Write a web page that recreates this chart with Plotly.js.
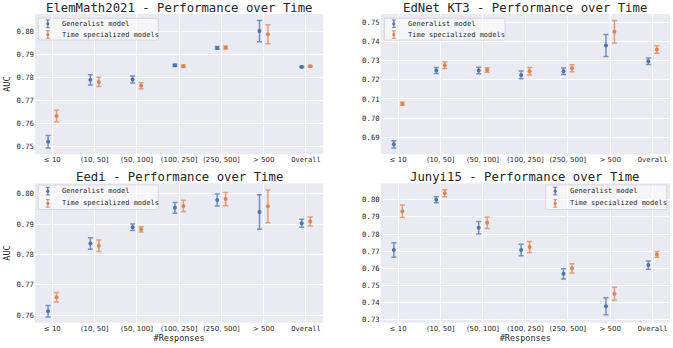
<!DOCTYPE html>
<html>
<head>
<meta charset="utf-8">
<script src="https://cdn.plot.ly/plotly-3.0.1.min.js"></script>
<style>
  body { margin: 0; background: #fff; }
  #plot { width: 673px; height: 348px; }
</style>
</head>
<body>
<div id="plot"></div>
<script>
// x categories (shared by all panels)
var categories = ['\u2264 10', '(10, 50]', '(50, 100]', '(100, 250]', '(250, 500]', '> 500', 'Overall'];
var titles = ['ElemMath2021 - Performance over Time', 'EdNet KT3 - Performance over Time',
              'Eedi - Performance over Time', 'Junyi15 - Performance over Time'];
var seriesNames = ['Generalist model', 'Time specialized models'];

// ElemMath2021
var elemGen = [0.7521, 0.7789, 0.7791, 0.7852, 0.7927, 0.8000, 0.7845];
var elemGenErr = [0.0027, 0.0022, 0.0015, 0.0005, 0.0006, 0.0046, 0.0003];
var elemSpec = [0.7633, 0.7780, 0.7764, 0.7848, 0.7929, 0.7986, 0.7848];
var elemSpecErr = [0.0025, 0.0020, 0.0013, 0.0005, 0.0006, 0.0041, 0.0003];

// EdNet KT3
var ednetGen = [0.6862, 0.7249, 0.7249, 0.7226, 0.7245, 0.7380, 0.7298];
var ednetGenErr = [0.0019, 0.0016, 0.0017, 0.0020, 0.0017, 0.0058, 0.0017];
var ednetSpec = [0.7075, 0.7276, 0.7252, 0.7245, 0.7261, 0.7452, 0.7359];
var ednetSpecErr = [0.0008, 0.0017, 0.0012, 0.0020, 0.0018, 0.0059, 0.0020];

// Eedi
var eediGen = [0.7613, 0.7836, 0.7890, 0.7954, 0.7980, 0.7940, 0.7903];
var eediGenErr = [0.0019, 0.0019, 0.0011, 0.0018, 0.0020, 0.0057, 0.0013];
var eediSpec = [0.7659, 0.7829, 0.7883, 0.7960, 0.7983, 0.7959, 0.7909];
var eediSpecErr = [0.0016, 0.0019, 0.0009, 0.0019, 0.0022, 0.0054, 0.0015];

// Junyi15
var junyiGen = [0.7707, 0.8000, 0.7837, 0.7707, 0.7568, 0.7379, 0.7619];
var junyiGenErr = [0.0042, 0.0017, 0.0036, 0.0034, 0.0030, 0.0049, 0.0024];
var junyiSpec = [0.7933, 0.8038, 0.7866, 0.7725, 0.7600, 0.7452, 0.7681];
var junyiSpecErr = [0.0037, 0.0020, 0.0034, 0.0032, 0.0027, 0.0038, 0.0017];

var yTicks = [
  [0.75, 0.76, 0.77, 0.78, 0.79, 0.80],
  [0.69, 0.70, 0.71, 0.72, 0.73, 0.74, 0.75],
  [0.76, 0.77, 0.78, 0.79, 0.80],
  [0.73, 0.74, 0.75, 0.76, 0.77, 0.78, 0.79, 0.80]
];
var yRanges = [[0.7467, 0.8074], [0.681, 0.7545], [0.7575, 0.8035], [0.7283, 0.8096]];

var panels = [
  [elemGen, elemGenErr, elemSpec, elemSpecErr],
  [ednetGen, ednetGenErr, ednetSpec, ednetSpecErr],
  [eediGen, eediGenErr, eediSpec, eediSpecErr],
  [junyiGen, junyiGenErr, junyiSpec, junyiSpecErr]
];

var W = 673, H = 348;
// plot areas in pixels: left, right, top, bottom
var boxes = [[35, 323.3, 14, 154.3], [380.7, 670, 14, 154.3], [35, 323.3, 183.3, 322.7], [380.7, 670, 183.3, 322.7]];
// legend boxes in pixels: left, right, top, bottom
var legBoxes = [[38.3, 158.3, 18.3, 40], [384.3, 505, 18.3, 40], [38.3, 158.3, 185, 209.5], [545.7, 666.7, 185, 209.5]];
var titleY = [7.5, 7.5, 177, 177];

var colors = ['#4C72B0', '#DD8452'];
var errColors = ['rgba(76,114,176,0.75)', 'rgba(221,132,82,0.75)'];
var mono = 'DejaVu Sans Mono';
var sans = 'DejaVu Sans';
var ink = '#262626';

function px(x) { return x / W; }
function py(y) { return 1 - y / H; }

var idx = categories.map(function (c, i) { return i; });
var tickText = categories.map(function (c) {
  return c === 'Overall' ? '<span style="font-family:' + mono + '">' + c + '</span>' : c;
});

var data = [];
var layout = {
  width: W, height: H,
  margin: { l: 0, r: 0, t: 0, b: 0 },
  paper_bgcolor: '#ffffff',
  plot_bgcolor: '#EAEAF2',
  showlegend: false,
  font: { family: mono, size: 7, color: ink },
  annotations: [],
  shapes: []
};

for (var p = 0; p < 4; p++) {
  var sfx = p === 0 ? '' : String(p + 1);
  var b = boxes[p];
  var xd = [px(b[0]), px(b[1])];
  var yd = [py(b[3]), py(b[2])];
  for (var s = 0; s < 2; s++) {
    var off = s === 0 ? -0.1 : 0.1;
    data.push({
      type: 'scatter', mode: 'markers',
      name: seriesNames[s],
      x: idx.map(function (i) { return i + off; }),
      y: panels[p][s * 2],
      error_y: { type: 'data', array: panels[p][s * 2 + 1], visible: true,
                 color: errColors[s], thickness: 1.5, width: 2.5 },
      marker: { color: colors[s], size: 4 },
      xaxis: 'x' + sfx, yaxis: 'y' + sfx
    });
  }
  layout['xaxis' + sfx] = {
    domain: xd, anchor: 'y' + sfx,
    range: [-0.41, 6.41],
    tickmode: 'array', tickvals: idx, ticktext: tickText, tickangle: 0,
    showgrid: true, gridcolor: '#ffffff', gridwidth: 1,
    zeroline: false, showline: false, ticks: '',
    tickfont: { family: sans, size: 7, color: ink },
    title: p >= 2 ? { text: '#Responses', font: { family: mono, size: 8.5, color: ink }, standoff: 2 } : { text: '' }
  };
  layout['yaxis' + sfx] = {
    domain: yd, anchor: 'x' + sfx,
    range: yRanges[p],
    tickmode: 'array', tickvals: yTicks[p],
    ticktext: yTicks[p].map(function (v) { return v.toFixed(2); }),
    showgrid: true, gridcolor: '#ffffff', gridwidth: 1,
    zeroline: false, showline: false, ticks: '',
    tickfont: { family: mono, size: 7.3, color: ink },
    title: (p % 2 === 0) ? { text: 'AUC', font: { family: mono, size: 8.5, color: ink }, standoff: 4 } : { text: '' }
  };

  // subplot title
  layout.annotations.push({
    text: titles[p], showarrow: false,
    xref: 'paper', yref: 'paper',
    x: (xd[0] + xd[1]) / 2, xanchor: 'center',
    y: py(titleY[p]), yanchor: 'middle',
    font: { family: mono, size: 12.3, color: ink }
  });

  // legend drawn by hand (matplotlib-like compact box)
  var lb = legBoxes[p];
  layout.shapes.push({
    type: 'rect', xref: 'paper', yref: 'paper',
    x0: px(lb[0]), x1: px(lb[1]), y0: py(lb[3]), y1: py(lb[2]),
    fillcolor: 'rgba(255,255,255,0.55)', line: { color: '#d0d0d8', width: 0.8 }
  });
  var rowH = (lb[3] - lb[2]) / 2;
  for (var s2 = 0; s2 < 2; s2++) {
    var cy = lb[2] + rowH * (s2 + 0.5);
    var sx = lb[0] + 9.5;
    layout.shapes.push({ type: 'line', xref: 'paper', yref: 'paper',
      x0: px(sx), x1: px(sx), y0: py(cy - 3.8), y1: py(cy + 3.8),
      line: { color: errColors[s2], width: 1.5 } });
    layout.shapes.push({ type: 'line', xref: 'paper', yref: 'paper',
      x0: px(sx - 2), x1: px(sx + 2), y0: py(cy - 3.8), y1: py(cy - 3.8),
      line: { color: errColors[s2], width: 1.2 } });
    layout.shapes.push({ type: 'line', xref: 'paper', yref: 'paper',
      x0: px(sx - 2), x1: px(sx + 2), y0: py(cy + 3.8), y1: py(cy + 3.8),
      line: { color: errColors[s2], width: 1.2 } });
    layout.shapes.push({ type: 'circle', xref: 'paper', yref: 'paper',
      x0: px(sx - 1.6), x1: px(sx + 1.6), y0: py(cy + 1.6), y1: py(cy - 1.6),
      fillcolor: colors[s2], line: { width: 0 } });
    layout.annotations.push({
      text: seriesNames[s2], showarrow: false,
      xref: 'paper', yref: 'paper',
      x: px(lb[0] + 22), xanchor: 'left',
      y: py(cy), yanchor: 'middle',
      font: { family: mono, size: 7, color: ink }
    });
  }
}

Plotly.newPlot('plot', data, layout, { displayModeBar: false, staticPlot: true });
</script>
</body>
</html>
